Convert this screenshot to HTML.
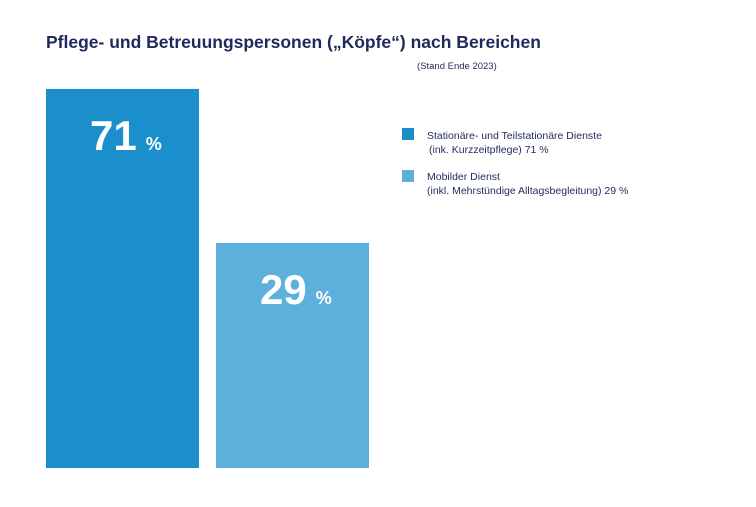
<!DOCTYPE html>
<html><head><meta charset="utf-8"><style>
body{margin:0;background:#fff;width:756px;height:502px;overflow:hidden;font-family:"Liberation Sans",sans-serif;}
svg text{font-family:"Liberation Sans",sans-serif;}
</style></head><body>
<svg width="756" height="502">
<text x="46" y="48" font-size="17.5" font-weight="bold" fill="#1f2a5c">Pflege- und Betreuungspersonen („Köpfe“) nach Bereichen</text>
<text x="417" y="69" font-size="9.5" fill="#1f2a5c">(Stand Ende 2023)</text>
<g id="bars"></g>
<g>
<rect x="402" y="128" width="12" height="12" fill="#1a8fcc"/>
<text x="427" y="139" font-size="10.5" fill="#1f2a5c">Stationäre- und Teilstationäre Dienste</text>
<text x="429" y="153" font-size="10.5" fill="#1f2a5c">(ink. Kurzzeitpflege) 71 %</text>
<rect x="402" y="170" width="12" height="12" fill="#5eb0dc"/>
<text x="427" y="180" font-size="10.5" fill="#1f2a5c">Mobilder Dienst</text>
<text x="427" y="194" font-size="10.5" fill="#1f2a5c">(inkl. Mehrstündige Alltagsbegleitung) 29 %</text>
</g>
</svg>
<script>
const categories=["Stationär","Mobil"];
const values=[71,29];
const labels=["71","29"];
const colors=["#1a8fcc","#5eb0dc"];
const base=468;
function yScale(v){return base-(118.7+3.667*v);}
function xScale(i){return 46+i*170;}
const g=document.getElementById('bars');
const ns="http://www.w3.org/2000/svg";
values.forEach((v,i)=>{
  const r=document.createElementNS(ns,'rect');
  r.setAttribute('x',xScale(i));r.setAttribute('y',yScale(v));
  r.setAttribute('width',153);r.setAttribute('height',base-yScale(v));
  r.setAttribute('fill',colors[i]);
  
  
  g.appendChild(r);
  const t=document.createElementNS(ns,'text');
  t.setAttribute('x',xScale(i)+44);t.setAttribute('y',yScale(v)+61);
  t.setAttribute('fill','#fff');t.setAttribute('font-size','42');t.setAttribute('font-weight','bold');
  t.textContent=labels[i];
  const s=document.createElementNS(ns,'tspan');
  s.setAttribute('font-size','18');s.setAttribute('dx','9');
  s.textContent='%';t.appendChild(s);
  
  
  g.appendChild(t);
});
</script>
</body></html>
